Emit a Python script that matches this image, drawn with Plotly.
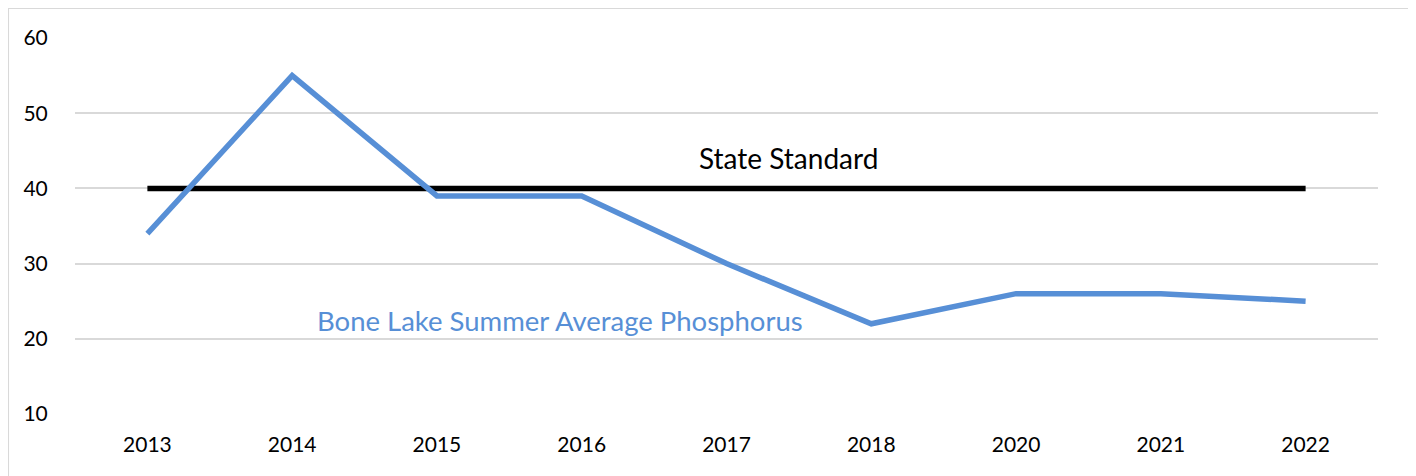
import plotly.graph_objects as go

years = ["2013", "2014", "2015", "2016", "2017", "2018", "2020", "2021", "2022"]
phosphorus = [34, 55, 39, 39, 30, 22, 26, 26, 25]
standard = [40, 40, 40, 40, 40, 40, 40, 40, 40]
y_ticks = [10, 20, 30, 40, 50, 60]

FONT = "Lato"

fig = go.Figure()
fig.add_trace(go.Scatter(x=years, y=standard, mode="lines",
                         line=dict(color="#000000", width=5.5), hoverinfo="skip"))
fig.add_trace(go.Scatter(x=years, y=phosphorus, mode="lines",
                         line=dict(color="#578fd6", width=5.5), hoverinfo="skip"))

fig.add_annotation(x=4.425, y=44.0, xref="x", yref="y", text="State Standard",
                   showarrow=False, font=dict(family=FONT, size=28, color="#000000"))
fig.add_annotation(x=2.85, y=22.4, xref="x", yref="y",
                   text="Bone Lake Summer Average Phosphorus",
                   showarrow=False, font=dict(family=FONT, size=27.5, color="#578fd6"))

# outer border
fig.add_shape(type="rect", xref="paper", yref="paper",
              x0=-0.0514, x1=1.0238, y0=-0.25, y1=1.0798,
              line=dict(color="#d9d9d9", width=2), layer="below")

fig.update_layout(
    width=1416, height=476,
    margin=dict(l=67, r=46, t=30, b=70),
    paper_bgcolor="white", plot_bgcolor="white",
    showlegend=False,
    font=dict(family=FONT, size=21, color="#000000"),
    xaxis=dict(type="category", range=[-0.5, 8.5], showgrid=False,
               showline=False, zeroline=False, ticks="outside", ticklen=12,
               tickcolor="rgba(0,0,0,0)", tickfont=dict(size=21),
               automargin=False),
    yaxis=dict(range=[10, 60], tickvals=y_ticks, showgrid=True,
               gridcolor="#d9d9d9", gridwidth=1.5, zeroline=False,
               showline=False, ticks="outside", ticklen=22,
               tickcolor="rgba(0,0,0,0)", tickfont=dict(size=21),
               automargin=False),
)

fig.write_html("out.html")
